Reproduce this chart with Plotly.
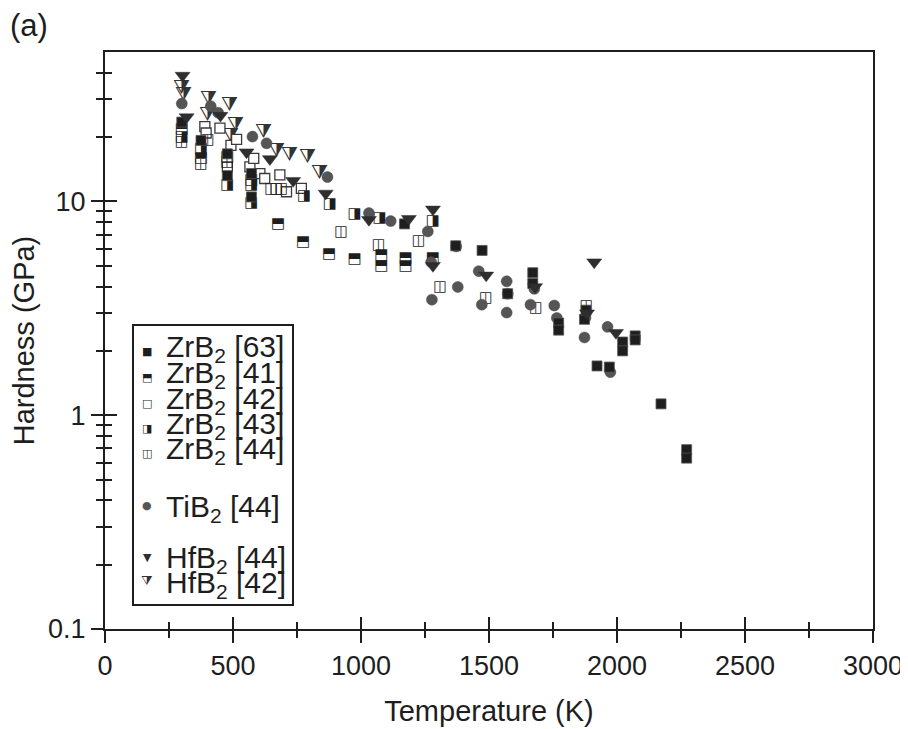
import numpy as np
import plotly.graph_objects as go

# ---------------- data ----------------
zrb2_63_T = [300, 375, 478, 478, 572, 572, 1170, 1370, 1473, 1573, 1671, 1671, 1772, 1772,
             1873, 1879, 1922, 1970, 2022, 2022, 2071, 2071, 2172, 2272, 2272]
zrb2_63_H = [23.5, 19.3, 16.7, 13.2, 13.5, 10.5, 7.85, 6.2, 5.9, 3.7, 4.64, 4.13, 2.7, 2.5,
             2.81, 3.1, 1.7, 1.68, 2.2, 2.0, 2.35, 2.25, 1.13, 0.69, 0.63]

zrb2_41_T = [300, 375, 478, 572, 676, 774, 875, 975, 1079, 1079, 1174, 1174, 1281]
zrb2_41_H = [21.8, 15.9, 16.1, 12.5, 7.86, 6.45, 5.65, 5.36, 5.6, 5.0, 5.4, 5.0, 5.45]

zrb2_42_T = [390, 395, 449, 478, 492, 514, 566, 581, 605, 624, 683, 709, 767]
zrb2_42_H = [22.4, 20.9, 22.0, 14.5, 18.3, 19.5, 14.5, 15.9, 13.5, 12.8, 13.3, 11.1, 11.5]

zrb2_43_T = [300, 375, 478, 572, 572, 778, 878, 975, 1073, 1281]
zrb2_43_H = [20.0, 17.6, 11.9, 11.9, 9.76, 10.6, 9.7, 8.67, 8.38, 8.09]

zrb2_44_T = [300, 375, 403, 478, 650, 670, 690, 923, 1070, 1226, 1310, 1489, 1684, 1881]
zrb2_44_H = [18.9, 15.0, 19.3, 15.3, 11.4, 11.4, 11.4, 7.19, 6.22, 6.5, 3.95, 3.53, 3.15, 3.23]

tib2_T = [300, 413, 442, 576, 631, 869, 1031, 1116, 1261, 1274, 1277, 1372, 1378, 1460, 1472,
          1569, 1569, 1573, 1662, 1677, 1755, 1765, 1873, 1877, 1963, 1974]
tib2_H = [28.7, 27.9, 26.0, 20.1, 18.7, 13.0, 8.82, 8.09, 7.24, 5.2, 3.47, 6.16, 3.98, 4.72, 3.29,
          4.23, 3.02, 3.7, 3.29, 3.9, 3.26, 2.85, 2.31, 2.86, 2.59, 1.59]

hfb2_44_T = [303, 319, 451, 553, 644, 735, 862, 1031, 1187, 1281, 1281, 1489, 1680, 1883, 1911, 1996]
hfb2_44_H = [38.8, 24.8, 25.2, 17.0, 15.8, 12.5, 10.9, 8.21, 8.3, 9.18, 5.0, 4.51, 3.98, 3.0, 5.2, 2.43]

hfb2_42_T = [300, 305, 399, 403, 485, 490, 511, 618, 670, 719, 791, 839]
hfb2_42_H = [33.7, 31.5, 25.2, 29.9, 28.1, 20.1, 22.6, 21.1, 17.2, 16.4, 16.1, 13.5]

x_ticks = [0, 500, 1000, 1500, 2000, 2500, 3000]
x_minor = [250, 750, 1250, 1750, 2250, 2750]
y_ticks = [0.1, 1, 10]
y_ticktext = ["0.1", "1", "10"]
y_minor = [0.2, 0.3, 0.4, 0.5, 0.6, 0.7, 0.8, 0.9, 2, 3, 4, 5, 6, 7, 8, 9, 20, 30, 40]

legend_labels = ["ZrB<sub>2</sub> [63]", "ZrB<sub>2</sub> [41]", "ZrB<sub>2</sub> [42]",
                 "ZrB<sub>2</sub> [43]", "ZrB<sub>2</sub> [44]", "TiB<sub>2</sub> [44]",
                 "HfB<sub>2</sub> [44]", "HfB<sub>2</sub> [42]"]
legend_glyphs = ["\u25A0", "\u2B12", "\u25A1", "\u25E8", "\u25EB", "\u25CF", "\u25BC", "\u29E9"]

# ---------------- styling ----------------
INK = "#1e1e1e"
FONT = "Liberation Sans, Arial, Helvetica, sans-serif"
GLYPH_FONT = "DejaVu Sans"

fig = go.Figure()

def glyph_trace(T, H, ch, size=15, color=INK):
    return go.Scatter(x=T, y=H, mode="text", text=[ch] * len(T),
                      textposition="middle center",
                      textfont=dict(family=GLYPH_FONT, size=size, color=color),
                      hoverinfo="x+y", showlegend=False)

# HfB2 [42] half-filled down triangles (glyph)
fig.add_trace(glyph_trace(hfb2_42_T, hfb2_42_H, "\u29E9", size=19, color="#333333"))
# ZrB2 [42] open squares
fig.add_trace(go.Scatter(x=zrb2_42_T, y=zrb2_42_H, mode="markers", showlegend=False,
                         marker=dict(symbol="square", size=10, color="white",
                                     line=dict(color="#3a3a3a", width=1.3))))
# ZrB2 [44], [43], [41] split squares drawn as glyphs
fig.add_trace(glyph_trace(zrb2_44_T, zrb2_44_H, "\u25EB"))
fig.add_trace(glyph_trace(zrb2_43_T, zrb2_43_H, "\u25E8"))
fig.add_trace(glyph_trace(zrb2_41_T, zrb2_41_H, "\u2B12"))
# TiB2 circles
fig.add_trace(go.Scatter(x=tib2_T, y=tib2_H, mode="markers", showlegend=False,
                         marker=dict(symbol="circle", size=11, color="#555555",
                                     line=dict(color="#4a4a4a", width=0.5))))
# ZrB2 [63] filled squares
fig.add_trace(go.Scatter(x=zrb2_63_T, y=zrb2_63_H, mode="markers", showlegend=False,
                         marker=dict(symbol="square", size=10, color=INK,
                                     line=dict(color="#555555", width=0.8))))
# HfB2 [44] filled triangles
fig.add_trace(go.Scatter(x=hfb2_44_T, y=hfb2_44_H, mode="markers", showlegend=False,
                         marker=dict(symbol="triangle-down", size=13, color="#2e2e2e",
                                     line=dict(color="#2e2e2e", width=0.5))))
# empty trace for the overlay axes (inside ticks)
fig.add_trace(go.Scatter(x=[None], y=[None], xaxis="x2", yaxis="y2", mode="markers",
                         showlegend=False, hoverinfo="skip"))

y_range = [-1, np.log10(50)]
x_range = [0, 3000]

axis_common = dict(showgrid=False, zeroline=False, tickcolor=INK, tickwidth=2, automargin=False)

# the page body has an 8 px margin, so the figure is made 8 px smaller
fig.update_layout(
    width=900, height=721,
    margin=dict(l=97, r=35, t=44, b=100, autoexpand=False),
    paper_bgcolor="white", plot_bgcolor="white",
    font=dict(family=FONT, size=27, color=INK),
    showlegend=False,
    xaxis=dict(range=x_range, tickmode="array", tickvals=x_ticks, ticks="outside", ticklen=12,
               showline=True, linewidth=2, linecolor=INK, mirror=True,
               tickfont=dict(size=27),
               title=dict(text="Temperature (K)", font=dict(size=29), standoff=20),
               minor=dict(tickmode="array", tickvals=x_minor, ticks="outside", ticklen=7,
                          tickwidth=2, tickcolor=INK),
               **axis_common),
    yaxis=dict(type="log", range=y_range, tickmode="array", tickvals=y_ticks,
               ticktext=y_ticktext, ticks="outside", ticklen=12,
               showline=True, linewidth=2, linecolor=INK, mirror=True,
               tickfont=dict(size=27),
               title=dict(text="Hardness (GPa)", font=dict(size=29), standoff=15),
               minor=dict(tickmode="array", tickvals=y_minor, ticks="outside", ticklen=7,
                          tickwidth=2, tickcolor=INK),
               **axis_common),
    xaxis2=dict(overlaying="x", anchor="y", side="bottom", range=x_range, tickmode="array",
                tickvals=x_ticks, ticks="inside", ticklen=12, showticklabels=False,
                showline=False,
                minor=dict(tickmode="array", tickvals=x_minor, ticks="inside", ticklen=7,
                           tickwidth=2, tickcolor=INK),
                **axis_common),
    yaxis2=dict(overlaying="y", anchor="x", side="left", type="log", range=y_range,
                tickmode="array", tickvals=y_ticks, ticks="inside", ticklen=12,
                showticklabels=False, showline=False,
                minor=dict(tickmode="array", tickvals=y_minor, ticks="inside", ticklen=7,
                           tickwidth=2, tickcolor=INK),
                **axis_common),
)

# pixel (page) -> paper conversion for the decorations
PX0, PX1, PY0, PY1 = 105, 873, 52, 629
def px_to_paper(xp, yp):
    return (xp - PX0) / (PX1 - PX0), (PY1 - yp) / (PY1 - PY0)

# panel label
ax_, ay_ = px_to_paper(8, 6)
fig.add_annotation(text="(a)", xref="paper", yref="paper", x=ax_, y=ay_,
                   xanchor="left", yanchor="top", showarrow=False,
                   font=dict(size=31, family=FONT, color=INK))

# legend box and rows
bx0, by0 = px_to_paper(133, 325)
bx1, by1 = px_to_paper(293, 605)
fig.add_shape(type="rect", xref="paper", yref="paper", x0=bx0, y0=by1, x1=bx1, y1=by0,
              line=dict(color=INK, width=2), fillcolor="white", layer="above")

row_text_y = [348, 374, 400, 425, 451, 508, 559, 584]
row_sym_y = [351, 377, 403, 428, 453, 505, 557, 580]
glyph_colors = [INK, INK, INK, INK, INK, "#555555", "#2e2e2e", "#333333"]
glyph_sizes = [11, 11, 11, 11, 11, 11, 11, 13]
for lab, gl, ty, sy, gc, gs in zip(legend_labels, legend_glyphs, row_text_y, row_sym_y,
                                   glyph_colors, glyph_sizes):
    tx, typ = px_to_paper(164, ty)
    sx, syp = px_to_paper(147, sy)
    fig.add_annotation(text=lab, xref="paper", yref="paper", x=tx, y=typ,
                       xanchor="left", yanchor="middle", showarrow=False,
                       font=dict(size=30, family=FONT, color=INK))
    fig.add_annotation(text=gl, xref="paper", yref="paper", x=sx, y=syp,
                       xanchor="center", yanchor="middle", showarrow=False,
                       font=dict(size=gs, family=GLYPH_FONT, color=gc))

fig.write_html("out.html")
